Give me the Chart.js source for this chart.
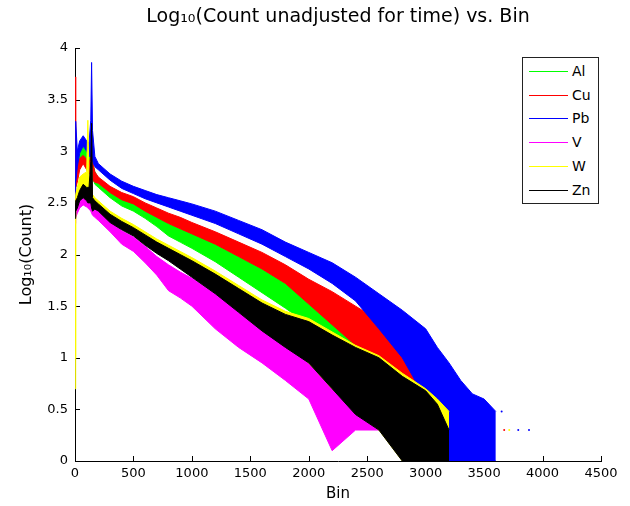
<!DOCTYPE html>
<html>
<head>
<meta charset="utf-8">
<title>Log10 count vs bin</title>
<script src="https://cdn.jsdelivr.net/npm/chart.js@4.4.1/dist/chart.umd.min.js"></script>
<style>
  body { margin: 0; background: #fff; }
  #wrap { position: relative; width: 630px; height: 506px; }
  #legend { position: absolute; left: 522px; top: 57px; width: 75px; height: 145px;
            border: 1px solid #222; background: #fff;
            font: 14px "DejaVu Sans", sans-serif; color: #000; }
  #legend .row { position: absolute; left: 6px; height: 16px; width: 68px; }
  #legend .sw { position: absolute; left: 0; top: 8px; width: 39px; height: 0; border-top: 1px solid; }
  #legend .tx { position: absolute; left: 43px; top: 0; line-height: 16px; }
</style>
</head>
<body>
<div id="wrap">
  <canvas id="chart" width="630" height="506"></canvas>
  <div id="legend"></div>
</div>
<script>
var bins = [0, 4, 8, 20, 40, 70, 100, 110, 120, 135, 142, 150, 170, 200, 300, 400, 500, 600, 700, 800,
            900, 1000, 1200, 1400, 1600, 1800, 2000, 2200, 2400, 2600, 2800, 3000, 3100, 3200, 3300, 3400, 3500, 3600];

var elements = ['Al', 'Cu', 'Pb', 'V', 'W', 'Zn'];
var colors = ['#00ff00', '#ff0000', '#0000ff', '#ff00ff', '#ffff00', '#000000'];

// upper / lower edge of each noisy trace, log10(count)
var alHigh = [2.70, 2.80, 2.88, 2.92, 2.98, 3.05, 3.00, 2.97, 2.95, 2.96, 2.98, 2.90, 2.80, 2.74, 2.62, 2.55, 2.50, 2.44, 2.37, 2.30,
              2.25, 2.21, 2.10, 1.98, 1.86, 1.72, 1.58, 1.44, 1.30, 1.12, 0.90, 0.70, 0.48, null, null, null, null, null];
var alLow  = [2.40, 2.55, 2.65, 2.78, 2.85, 2.93, 2.88, 2.85, 2.82, 2.80, 2.80, 2.75, 2.68, 2.65, 2.55, 2.47, 2.42, 2.35, 2.27, 2.18,
              2.12, 2.06, 1.93, 1.78, 1.63, 1.48, 1.32, 1.12, 0.90, 0.60, 0.30, 0, 0, null, null, null, null, null];
var cuHigh = [2.90, 3.72, 2.95, 2.85, 2.93, 2.96, 2.92, 2.90, 2.88, 2.95, 3.04, 2.90, 2.80, 2.75, 2.66, 2.60, 2.56, 2.50, 2.45, 2.40,
              2.36, 2.31, 2.22, 2.12, 2.02, 1.90, 1.76, 1.64, 1.50, 1.36, 1.15, 0.88, 0.70, 0.50, null, null, null, null];
var cuLow  = [2.40, 2.60, 2.65, 2.70, 2.82, 2.88, 2.82, 2.80, 2.78, 2.78, 2.75, 2.72, 2.70, 2.69, 2.60, 2.53, 2.49, 2.42, 2.36, 2.30,
              2.25, 2.20, 2.10, 1.98, 1.86, 1.72, 1.52, 1.32, 1.12, 0.90, 0.60, 0.30, 0, 0, null, null, null, null];
var pbHigh = [2.75, 3.00, 3.29, 3.00, 3.10, 3.15, 3.10, 3.09, 3.08, 3.30, 3.86, 3.20, 2.95, 2.88, 2.78, 2.71, 2.66, 2.62, 2.58, 2.55,
              2.52, 2.49, 2.42, 2.33, 2.24, 2.12, 2.02, 1.92, 1.78, 1.62, 1.46, 1.28, 1.10, 0.95, 0.78, 0.65, 0.60, 0.48];
var pbLow  = [2.55, 2.65, 2.70, 2.85, 2.98, 3.05, 3.00, 2.98, 2.95, 2.95, 2.95, 2.90, 2.85, 2.82, 2.72, 2.64, 2.59, 2.54, 2.50, 2.46,
              2.42, 2.38, 2.30, 2.20, 2.10, 1.98, 1.86, 1.72, 1.55, 1.28, 1.00, 0.60, 0.30, 0, 0, 0, 0, 0];
var vHigh  = [2.45, 2.45, 2.48, 2.50, 2.55, 2.58, 2.56, 2.55, 2.54, 2.52, 2.50, 2.50, 2.47, 2.43, 2.33, 2.23, 2.17, 2.08, 1.98, 1.90,
              1.83, 1.77, 1.62, 1.46, 1.32, 1.15, 1.05, 0.92, 0.60, 0.48, null, null, null, null, null, null, null, null];
var vLow   = [2.30, 2.33, 2.36, 2.40, 2.45, 2.48, 2.46, 2.45, 2.44, 2.42, 2.40, 2.38, 2.36, 2.33, 2.22, 2.10, 2.03, 1.92, 1.80, 1.65,
              1.58, 1.50, 1.28, 1.10, 0.95, 0.78, 0.60, 0.10, 0.30, 0.30, null, null, null, null, null, null, null, null];
var wHigh  = [1.00, 2.50, 2.58, 2.65, 2.75, 2.78, 2.80, 3.30, 2.75, 2.70, 2.90, 2.58, 2.55, 2.52, 2.42, 2.35, 2.29, 2.22, 2.15, 2.09,
              2.03, 1.97, 1.84, 1.70, 1.56, 1.45, 1.38, 1.25, 1.12, 1.02, 0.85, 0.70, 0.60, 0.48, null, null, null, null];
var wLow   = [0.70, 2.35, 2.42, 2.50, 2.60, 2.62, 2.60, 2.60, 2.55, 2.52, 2.50, 2.44, 2.45, 2.44, 2.33, 2.26, 2.20, 2.12, 2.04, 1.96,
              1.88, 1.80, 1.64, 1.46, 1.28, 1.12, 0.95, 0.70, 0.48, 0.30, 0, 0, 0, 0, null, null, null, null];
var znHigh = [2.50, 2.45, 2.52, 2.55, 2.62, 2.68, 2.65, 2.65, 2.65, 2.90, 3.27, 2.55, 2.52, 2.49, 2.39, 2.32, 2.26, 2.19, 2.12, 2.06,
              2.00, 1.94, 1.81, 1.67, 1.53, 1.42, 1.35, 1.22, 1.10, 1.00, 0.82, 0.68, 0.55, 0.30, null, null, null, null];
var znLow  = [2.35, 2.38, 2.42, 2.45, 2.52, 2.55, 2.52, 2.50, 2.50, 2.50, 2.45, 2.42, 2.44, 2.42, 2.31, 2.24, 2.18, 2.09, 2.01, 1.94,
              1.86, 1.78, 1.62, 1.44, 1.26, 1.10, 0.95, 0.70, 0.45, 0.30, 0, 0, 0, 0, null, null, null, null];

// isolated low-count dots past the end of the traces
var tailBins = [3650, 3672, 3715, 3792, 3884];
var tailValues = [0.48, 0.30, 0.30, 0.30, 0.30];
var tailElements = ['Pb', 'Cu', 'W', 'Pb', 'Pb'];

var highs = [alHigh, cuHigh, pbHigh, vHigh, wHigh, znHigh];
var lows = [alLow, cuLow, pbLow, vLow, wLow, znLow];

var xTicks = [0, 500, 1000, 1500, 2000, 2500, 3000, 3500, 4000, 4500];
var yTicks = [0, 0.5, 1, 1.5, 2, 2.5, 3, 3.5, 4];

function points(vals) {
  var out = [];
  for (var j = 0; j < bins.length; j++) {
    if (vals[j] !== null) out.push({x: bins[j], y: vals[j]});
  }
  return out;
}

var datasets = [];
elements.forEach(function(name, i) {
  // later elements were plotted last, so they sit on top
  datasets.push({
    label: name, data: points(highs[i]), borderColor: colors[i], backgroundColor: colors[i],
    borderWidth: 1, pointRadius: 0, fill: '+1', order: elements.length - i
  });
  datasets.push({
    label: name + ' low', data: points(lows[i]), borderColor: colors[i], backgroundColor: colors[i],
    borderWidth: 1, pointRadius: 0, fill: false, order: elements.length - i
  });
});
datasets.push({
  type: 'scatter', label: 'tail',
  data: tailBins.map(function(b, k) { return {x: b, y: tailValues[k]}; }),
  pointRadius: 1, pointBorderWidth: 0,
  pointBackgroundColor: tailElements.map(function(e) { return colors[elements.indexOf(e)]; }),
  order: 0
});

var inwardTicks = {
  id: 'inwardTicks',
  beforeDatasetsDraw: function(chart) {
    var ctx = chart.ctx, xs = chart.scales.x, ys = chart.scales.y, a = chart.chartArea;
    ctx.save();
    ctx.strokeStyle = '#000';
    ctx.lineWidth = 1;
    ctx.beginPath();
    xs.ticks.forEach(function(t) {
      var px = Math.round(xs.getPixelForValue(t.value)) + 0.5;
      ctx.moveTo(px, a.bottom); ctx.lineTo(px, a.bottom - 5);
    });
    ys.ticks.forEach(function(t) {
      var py = Math.round(ys.getPixelForValue(t.value)) + 0.5;
      ctx.moveTo(a.left, py); ctx.lineTo(a.left + 5, py);
    });
    ctx.stroke();
    ctx.restore();
  }
};

Chart.defaults.font.family = '"DejaVu Sans", sans-serif';
Chart.defaults.color = '#000';

new Chart(document.getElementById('chart').getContext('2d'), {
  type: 'line',
  data: {datasets: datasets},
  plugins: [inwardTicks],
  options: {
    responsive: false,
    animation: false,
    layout: {padding: {top: 0, right: 29, bottom: 0, left: 0}},
    plugins: {
      legend: {display: false},
      tooltip: {enabled: false},
      title: {
        display: true,
        fullSize: false,
        text: 'Log\u2081\u2080(Count unadjusted for time) vs. Bin',
        font: {size: 19, weight: 'normal'},
        color: '#000',
        padding: {top: 6, bottom: 19.2}
      }
    },
    scales: {
      x: {
        type: 'linear', min: 0, max: 4500,
        afterBuildTicks: function(s) { s.ticks = xTicks.map(function(v) { return {value: v}; }); },
        afterFit: function(s) { s.height = 45; },
        grid: {drawOnChartArea: false, drawTicks: false},
        border: {display: true, color: '#000', width: 1},
        ticks: {padding: 5, font: {size: 13}, maxRotation: 0,
                callback: function(v) { return String(v); }},
        title: {display: true, text: 'Bin', font: {size: 15}, padding: {top: 0, bottom: 3}}
      },
      y: {
        type: 'linear', min: 0, max: 4,
        afterBuildTicks: function(s) { s.ticks = yTicks.map(function(v) { return {value: v}; }); },
        afterFit: function(s) { s.width = 75; },
        grid: {drawOnChartArea: false, drawTicks: false},
        border: {display: true, color: '#000', width: 1},
        ticks: {padding: 7, font: {size: 13}, callback: function(v) { return String(v); }},
        title: {display: true, text: 'Log\u2081\u2080(Count)', font: {size: 16}, padding: {top: 17, bottom: 0}}
      }
    }
  }
});

// MATLAB-style boxed legend in the upper right corner
var legend = document.getElementById('legend');
elements.forEach(function(name, i) {
  var row = document.createElement('div');
  row.className = 'row';
  row.style.top = Math.round(5 + i * 23.7) + 'px';
  row.innerHTML = '<span class="sw" style="border-color:' + colors[i] + '"></span><span class="tx">' + name + '</span>';
  legend.appendChild(row);
});
</script>
</body>
</html>
